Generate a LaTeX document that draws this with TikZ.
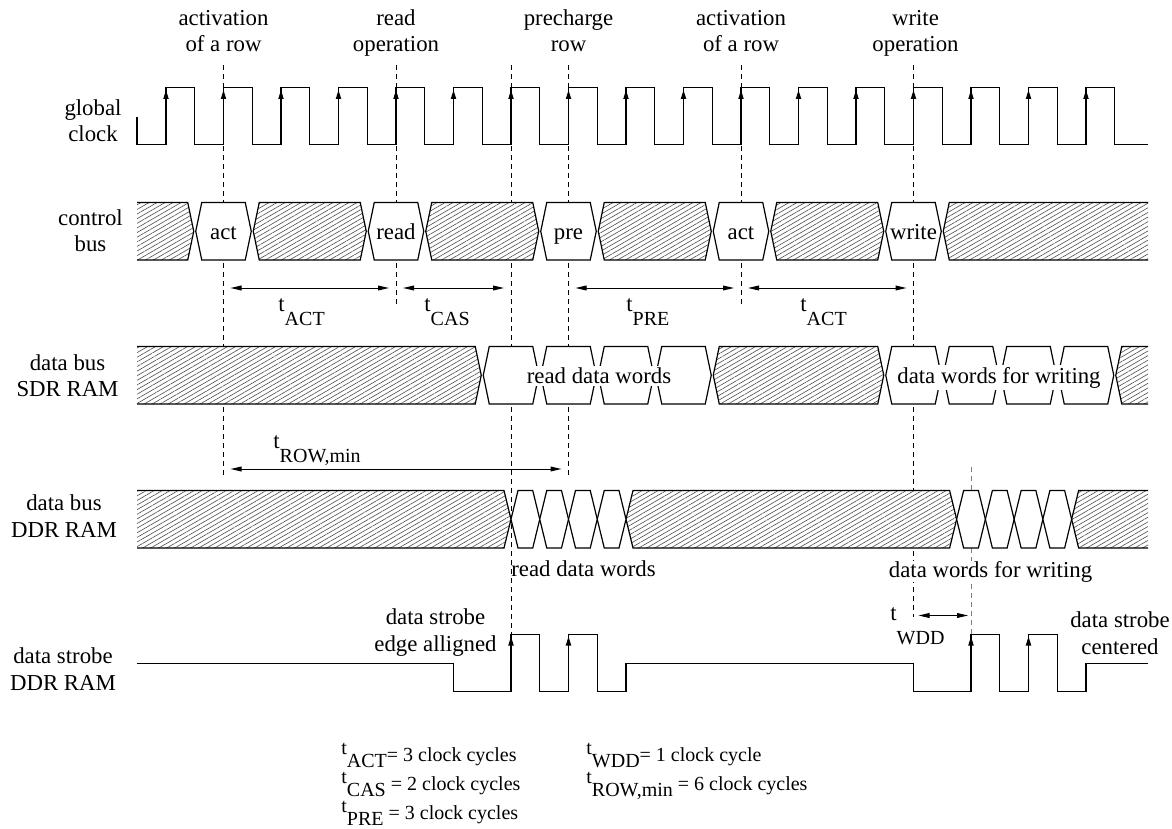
\documentclass[tikz,border=0pt]{standalone}
\usepackage{fontspec}
\setmainfont{Liberation Serif}
\usetikzlibrary{arrows.meta,patterns.meta}

\newcommand\tclk[1]{(166+(#1)*57.5)}
\newcommand\tsub[2][7pt]{t\raisebox{-#1}{\fontsize{10}{12}\selectfont #2}}
% one bus cell between two transitions: [style]{from}{to}{top}{tip gap}
\newcommand\cell[5][]{%
  \draw[#1] ({#2+#5},{#4+28.75}) -- ({#2+7},#4) -- ({#3-7},#4) -- ({#3-#5},{#4+28.75})
    -- ({#3-7},{#4+57.5}) -- ({#2+7},{#4+57.5}) -- cycle;}

\begin{document}
\begin{tikzpicture}[x=0.5pt, y=-0.5pt,
  every node/.style={font=\fontsize{11.4}{13.2}\selectfont, inner sep=0pt},
  wave/.style={line width=0.6pt},
  edge/.style={-{Triangle[length=4.5pt,width=2.6pt]}, line width=0.6pt},
  marker/.style={dash pattern=on 2.5pt off 2pt, line width=0.5pt},
  span/.style={{Triangle[length=5.5pt,width=2.4pt]}-{Triangle[length=5.5pt,width=2.4pt]},
    line width=0.5pt, shorten <=3.5pt, shorten >=3.5pt},
  bus/.style={line width=0.6pt},
  hatch/.style={preaction={fill=white}, pattern={Lines[angle=30,distance=2pt,line width=0.3pt]},
    pattern color=black!70},
  word/.style={fill=white},
  lbl/.style={align=center, anchor=base},
  legend/.style={anchor=base west, font=\fontsize{10}{12}\selectfont}]
\useasboundingbox (0,0) rectangle (1172,829);

% events
\coordinate (evActA) at ({\tclk{1}},65);
\coordinate (evRead) at ({\tclk{4}},65);
\coordinate (evData) at ({\tclk{6}},65);
\coordinate (evPre) at ({\tclk{7}},65);
\coordinate (evActB) at ({\tclk{10}},65);
\coordinate (evWrite) at ({\tclk{13}},65);
\coordinate (evStrobe) at ({\tclk{14}},467);
\draw[marker] (evActA) -- ++(0,412);
\draw[marker] (evRead) -- ++(0,240);
\draw[marker] (evData) -- ++(0,569);
\draw[marker] (evPre) -- ++(0,412);
\draw[marker] (evActB) -- ++(0,240);
\draw[marker] (evWrite) -- ++(0,552);
\draw[marker, gray] (evStrobe) -- ++(0,167);

\node[lbl] (opActA) at (evActA |- 0,52) {activation\\of a row};
\node[lbl] (opRead) at (evRead |- 0,52) {read\\operation};
\node[lbl] (opPre) at (evPre |- 0,52) {precharge\\row};
\node[lbl] (opActB) at (evActB |- 0,52) {activation\\of a row};
\node[lbl] (opWrite) at ({\tclk{13}+2},52) {write\\operation};

% global clock
\node[lbl] (lClock) at (93,141.7) {global\\clock};
\draw[wave] (137,117) -- (137,144.3)
  \foreach \k in {0,...,16} { -- ({\tclk{\k}},144.3) -- ({\tclk{\k}},87.7)
    -- ({\tclk{\k}+28.75},87.7) -- ({\tclk{\k}+28.75},144.3) } -- (1148,144.3);
\foreach \k in {0,...,16}
  \draw[edge] ({\tclk{\k}},144.3) -- ({\tclk{\k}},90);

% buses
\node[lbl] (lCtrl) at (90.5,251.7) {control\\bus};
\node[lbl] (lSdr) at (67.5,396.7) {data bus\\SDR RAM};
\node[lbl] (lDdr) at (64,537) {data bus\\DDR RAM};
\begin{scope}
\clip (137,0) rectangle (1148,829);
\foreach \a/\b in {-2/0.5, 1.5/3.5, 4.5/6.5, 7.5/9.5, 10.5/12.5, 13.5/19}
  \cell[bus,hatch]{\tclk{\a}}{\tclk{\b}}{202.5}{1};
\foreach \a/\b in {-2/5.5, 9.5/12.5, 16.5/19}
  \cell[bus,hatch]{\tclk{\a}}{\tclk{\b}}{346.5}{1};
\foreach \a in {5.5,6.5,7.5,8.5,12.5,13.5,14.5,15.5}
  \cell[bus,word]{\tclk{\a}}{\tclk{\a+1}}{346.5}{1};
\foreach \a/\b in {-2/6, 8/13.75, 15.75/19}
  \cell[bus,hatch]{\tclk{\a}}{\tclk{\b}}{490.5}{0};
\foreach \a in {6,6.5,7,7.5,13.75,14.25,14.75,15.25}
  \cell[bus,word]{\tclk{\a}}{\tclk{\a+0.5}}{490.5}{0};
\end{scope}
\foreach \a/\t/\n in {0.5/act/cAct, 3.5/read/cRead, 6.5/pre/cPre, 9.5/act/cActB, 12.5/write/cWrite} {
  \cell[bus,word]{\tclk{\a}}{\tclk{\a+1}}{202.5}{1};
  \node[anchor=base] (\n) at ({\tclk{\a+0.5}},239.5) {\t};
}
\node[anchor=base, fill=white, inner sep=1pt] (sdrRead) at (599,383.5) {read data words};
\node[anchor=base, fill=white, inner sep=1pt] (sdrWrite) at (999,383.5) {data words for writing};
\node[anchor=base west] (ddrRead) at (511,576) {read data words};
\node[anchor=base west, fill=white] (ddrWrite) at (888.5,577) {data words for writing};

% timing spans
\coordinate (rowCtl) at (0,288);
\coordinate (rowRow) at (0,469);
\draw[span] (evActA |- rowCtl) -- (evRead |- rowCtl);
\draw[span] (evRead |- rowCtl) -- (evData |- rowCtl);
\draw[span] (evPre |- rowCtl) -- (evActB |- rowCtl);
\draw[span] (evActB |- rowCtl) -- (evWrite |- rowCtl);
\draw[span] (evActA |- rowRow) -- (evPre |- rowRow);
\node[anchor=base west] (tActA) at (278,311) {\tsub{ACT}};
\node[anchor=base west] (tCas) at (424,311) {\tsub{CAS}};
\node[anchor=base west] (tPre) at (626,311) {\tsub{PRE}};
\node[anchor=base west] (tActB) at (800,311) {\tsub{ACT}};
\node[anchor=base west] (tRow) at (273,448) {\tsub{ROW,min}};
\coordinate (wddA) at ({\tclk{13}},615.5);
\coordinate (wddB) at ({\tclk{14}},615.5);
\draw[span, shorten <=2.5pt, shorten >=1.5pt] (wddA) -- (wddB);
\node[anchor=base west] (tWdd) at (890,620) {\tsub[12pt]{WDD}};

% data strobe
\node[lbl] (lStrobe) at (63,690) {data strobe\\DDR RAM};
\node[lbl] (lEdge) at (435.5,651) {data strobe\\edge alligned};
\node[lbl] (lCenter) at (1120,654) {data strobe\\centered};
\draw[wave] (137,663.3) -- ({\tclk{5}},663.3) -- ({\tclk{5}},691.7)
  \foreach \k in {6,7} { -- ({\tclk{\k}},691.7) -- ({\tclk{\k}},634.3)
    -- ({\tclk{\k}+28.75},634.3) -- ({\tclk{\k}+28.75},691.7) }
  -- ({\tclk{8}},691.7) -- ({\tclk{8}},663.3) -- ({\tclk{13}},663.3) -- ({\tclk{13}},691.7)
  \foreach \k in {14,15} { -- ({\tclk{\k}},691.7) -- ({\tclk{\k}},634.3)
    -- ({\tclk{\k}+28.75},634.3) -- ({\tclk{\k}+28.75},691.7) }
  -- ({\tclk{16}},691.7) -- ({\tclk{16}},663.3) -- (1148,663.3);
\foreach \k in {6,7,14,15}
  \draw[edge] ({\tclk{\k}},691.7) -- ({\tclk{\k}},636.5);

% legend
\node[legend] (legAct) at (341,761) {\raisebox{3.5pt}{\tsub[6.7pt]{ACT}}= 3 clock cycles};
\node[legend] (legCas) at (341,790) {\raisebox{3.5pt}{\tsub[6.7pt]{CAS}} = 2 clock cycles};
\node[legend] (legPre) at (341,819) {\raisebox{3.5pt}{\tsub[6.7pt]{PRE}} = 3 clock cycles};
\node[legend] (legWdd) at (586,761) {\raisebox{3.5pt}{\tsub[6.7pt]{WDD}}= 1 clock cycle};
\node[legend] (legRow) at (586,790) {\raisebox{3.5pt}{\tsub[6.7pt]{ROW,min}} = 6 clock cycles};
\end{tikzpicture}
\end{document}
